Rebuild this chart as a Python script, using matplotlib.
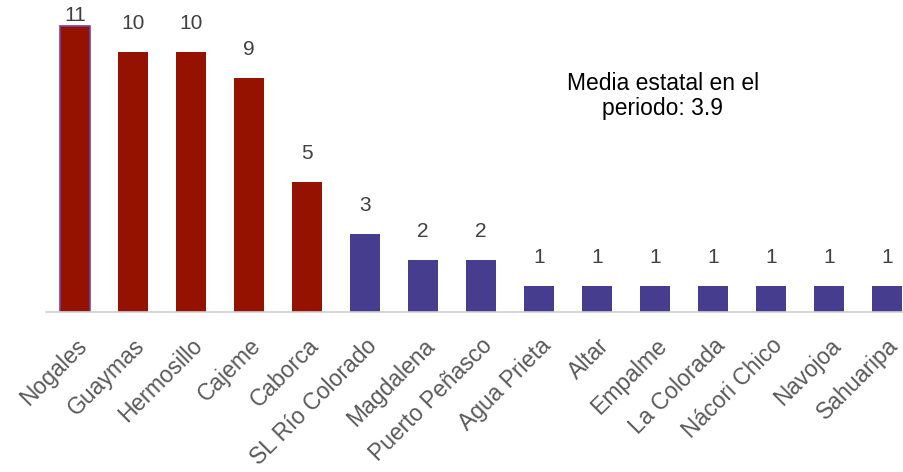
import matplotlib.pyplot as plt

# Municipios y valores
municipios = ['Nogales', 'Guaymas', 'Hermosillo', 'Cajeme', 'Caborca',
              'SL Río Colorado', 'Magdalena', 'Puerto Peñasco', 'Agua Prieta',
              'Altar', 'Empalme', 'La Colorada', 'Nácori Chico', 'Navojoa',
              'Sahuaripa']
valores = [11, 10, 10, 9, 5, 3, 2, 2, 1, 1, 1, 1, 1, 1, 1]
media_estatal = 3.9

ROJO = '#961200'
AZUL = '#463D8E'

plt.rcParams['font.family'] = ['Liberation Sans', 'DejaVu Sans']

fig = plt.figure(figsize=(9.04, 4.72), dpi=100)
ax = fig.add_axes([46 / 904, 160 / 472, 870 / 904, 312 / 472])

# Los que superan la media van en rojo
colores = [ROJO if v > media_estatal else AZUL for v in valores]
x = range(len(valores))
bars = ax.bar(x, valores, width=0.52, color=colores, zorder=2)
bars[0].set_edgecolor('#7B3FA0')
bars[0].set_linewidth(1.2)

# Etiquetas de valor encima de cada barra
for i, v in enumerate(valores):
    off = 1 if v == max(valores) else 19
    ax.annotate(str(v), (i, v), xytext=(0, off), textcoords='offset pixels',
                ha='center', va='bottom', fontsize=15, color='#404040')

ax.set_xlim(-0.5, len(valores) - 0.5)
ax.set_ylim(0, 12)
ax.set_yticks([])
for s in ['top', 'right', 'left']:
    ax.spines[s].set_visible(False)
ax.spines['bottom'].set_color('#D0D0D0')
ax.spines['bottom'].set_linewidth(1.2)

ax.set_xticks(list(x))
ax.set_xticklabels(municipios, rotation=45, ha='right', va='top',
                   rotation_mode='anchor', fontsize=16.5, color='#595959')
ax.tick_params(axis='x', length=0, pad=16)

fig.text(663 / 904, 1 - 96 / 472,
         'Media estatal en el\nperiodo: {:.1f}'.format(media_estatal),
         ha='center', va='center', fontsize=16.5, color='black', linespacing=1.15)

plt.savefig('out.png', dpi=100)
